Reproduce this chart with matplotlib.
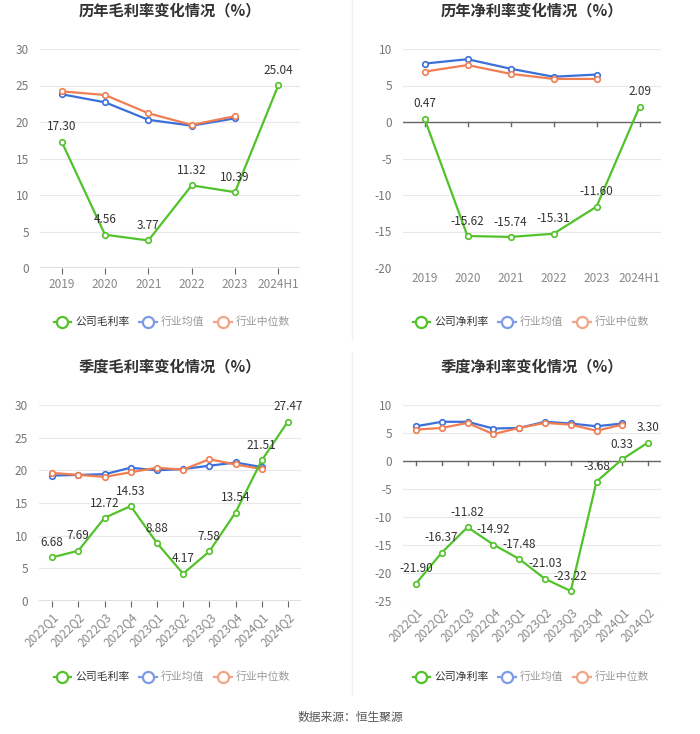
import matplotlib
matplotlib.use("Agg")
import matplotlib.pyplot as plt
from matplotlib.lines import Line2D

plt.rcParams['font.family'] = ['Noto Sans CJK SC', 'DejaVu Sans']
plt.rcParams['axes.unicode_minus'] = False

years = ["2019", "2020", "2021", "2022", "2023", "2024H1"]
quarters = ["2022Q1", "2022Q2", "2022Q3", "2022Q4", "2023Q1", "2023Q2",
            "2023Q3", "2023Q4", "2024Q1", "2024Q2"]

y_gross_company = [17.30, 4.56, 3.77, 11.32, 10.39, 25.04]
y_gross_avg = [23.8, 22.7, 20.3, 19.5, 20.5]
y_gross_median = [24.2, 23.7, 21.2, 19.6, 20.8]

y_net_company = [0.47, -15.62, -15.74, -15.31, -11.60, 2.09]
y_net_avg = [8.0, 8.6, 7.3, 6.2, 6.5]
y_net_median = [6.9, 7.8, 6.6, 5.9, 5.9]

q_gross_company = [6.68, 7.69, 12.72, 14.53, 8.88, 4.17, 7.58, 13.54, 21.51, 27.47]
q_gross_avg = [19.2, 19.3, 19.4, 20.4, 20.0, 20.2, 20.7, 21.2, 20.5]
q_gross_median = [19.6, 19.3, 19.0, 19.7, 20.4, 20.1, 21.7, 20.9, 20.2]

q_net_company = [-21.90, -16.37, -11.82, -14.92, -17.48, -21.03, -23.22, -3.68, 0.33, 3.30]
q_net_avg = [6.2, 7.0, 7.0, 5.8, 5.9, 7.0, 6.7, 6.2, 6.7]
q_net_median = [5.6, 5.9, 6.8, 4.8, 5.9, 6.8, 6.5, 5.4, 6.5]

GREEN = "#52c22a"
BLUE = "#3b6fd9"
ORANGE = "#f07e52"
BLUE_L = "#7d9ce6"
ORANGE_L = "#f3a488"

W, H = 700, 734
fig = plt.figure(figsize=(7.0, 7.34), dpi=100)


def px_axes(left, right, top, bottom):
    return fig.add_axes([left / W, 1 - bottom / H, (right - left) / W, (bottom - top) / H])


def draw(ax, cats, comp, avg, med, ylim, yticks, title, rotate, zero_axis_bottom):
    x = list(range(len(cats)))
    ax.plot(x[:len(avg)], avg, color=BLUE, lw=1.6, marker='o', ms=4,
            mfc='white', mec=BLUE, mew=1.2, zorder=3)
    ax.plot(x[:len(med)], med, color=ORANGE, lw=1.6, marker='o', ms=4,
            mfc='white', mec=ORANGE, mew=1.2, zorder=3)
    ax.plot(x, comp, color=GREEN, lw=1.6, marker='o', ms=4,
            mfc='white', mec=GREEN, mew=1.2, zorder=4)
    for xi, v in zip(x, comp):
        ax.annotate(f"{v:.2f}", (xi, v), xytext=(0, 6), textcoords='offset points',
                    ha='center', va='bottom', fontsize=8.5, color='#333333', zorder=5)
    ax.set_xlim(-0.5, len(cats) - 0.5)
    ax.set_ylim(*ylim)
    ax.set_yticks(yticks)
    ax.set_yticklabels([str(t) for t in yticks], fontsize=8.5, color='#777777')
    ax.set_xticks(x)
    if rotate:
        ax.set_xticklabels(cats, fontsize=8.5, color='#888888', rotation=45,
                           ha='right', rotation_mode='anchor')
    else:
        ax.set_xticklabels(cats, fontsize=8.5, color='#888888')
    for s in ['top', 'right', 'left', 'bottom']:
        ax.spines[s].set_visible(False)
    ax.grid(axis='y', color='#e8e8e8', lw=0.8)
    ax.set_axisbelow(True)
    ax.axhline(0, color='#666666', lw=1.0, zorder=2)
    ax.tick_params(axis='y', length=0, pad=8)
    ax.tick_params(axis='x', length=4, color='#666666', pad=3)
    if not zero_axis_bottom:
        ax.tick_params(axis='x', length=0)
        for xi in x:
            ax.plot([xi, xi], [0, -(ylim[1] - ylim[0]) * 0.018], color='#666666', lw=1.0,
                    clip_on=False, zorder=2)
    ax.set_title(title, fontsize=11, fontweight='bold', color='#333333', pad=24)


def legend(cx, cy, comp_name):
    handles = [
        Line2D([], [], color=GREEN, lw=1.6, marker='o', ms=8, mfc='white', mec=GREEN, mew=1.6),
        Line2D([], [], color=BLUE_L, lw=1.6, marker='o', ms=8, mfc='white', mec=BLUE_L, mew=1.6),
        Line2D([], [], color=ORANGE_L, lw=1.6, marker='o', ms=8, mfc='white', mec=ORANGE_L, mew=1.6),
    ]
    leg = fig.legend(handles, [comp_name, "行业均值", "行业中位数"], loc='center',
                     bbox_to_anchor=(cx / W, 1 - cy / H), ncol=3, frameon=False,
                     fontsize=7.8, handlelength=1.6, handletextpad=0.4, columnspacing=0.9)
    for t, c in zip(leg.get_texts(), ['#333333', '#999999', '#999999']):
        t.set_color(c)


ax1 = px_axes(40, 300, 49, 268)
draw(ax1, years, y_gross_company, y_gross_avg, y_gross_median, (0, 30), [0, 5, 10, 15, 20, 25, 30],
     "历年毛利率变化情况（%）", False, True)
legend(172, 322, "公司毛利率")

ax2 = px_axes(403, 661, 49, 268)
draw(ax2, years, y_net_company, y_net_avg, y_net_median, (-20, 10), [-20, -15, -10, -5, 0, 5, 10],
     "历年净利率变化情况（%）", False, False)
legend(531, 322, "公司净利率")

ax3 = px_axes(39, 301, 405, 601)
draw(ax3, quarters, q_gross_company, q_gross_avg, q_gross_median, (0, 30), [0, 5, 10, 15, 20, 25, 30],
     "季度毛利率变化情况（%）", True, True)
legend(172, 677, "公司毛利率")

ax4 = px_axes(403, 661, 405, 601)
draw(ax4, quarters, q_net_company, q_net_avg, q_net_median, (-25, 10), [-25, -20, -15, -10, -5, 0, 5, 10],
     "季度净利率变化情况（%）", True, False)
legend(531, 677, "公司净利率")

fig.add_artist(Line2D([352 / W, 352 / W], [1 - 0 / H, 1 - 340 / H], color='#f0f0f0', lw=1))
fig.add_artist(Line2D([352 / W, 352 / W], [1 - 352 / H, 1 - 695 / H], color='#f0f0f0', lw=1))

fig.text(0.5, 1 - 717 / H, "数据来源：恒生聚源", ha='center', va='center', fontsize=8.5, color='#555555')

fig.savefig("out.png", dpi=100)
